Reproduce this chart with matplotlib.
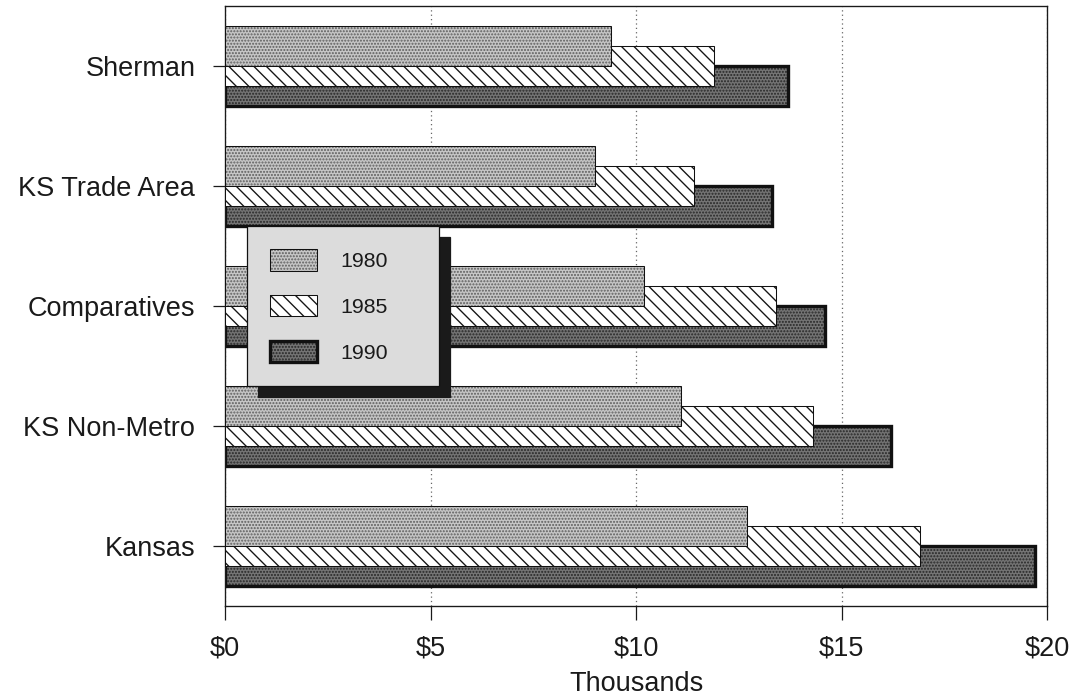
import matplotlib
matplotlib.use("Agg")
import matplotlib.pyplot as plt
import numpy as np

# Per-capita income by area, in thousands of dollars
categories = ["Sherman", "KS Trade Area", "Comparatives", "KS Non-Metro", "Kansas"]
series_labels = ["1980", "1985", "1990"]
income_1980 = [9.4, 9.0, 10.2, 11.1, 12.7]
income_1985 = [11.9, 11.4, 13.4, 14.3, 16.9]
income_1990 = [13.7, 13.3, 14.6, 16.2, 19.7]
x_ticks = [0, 5, 10, 15, 20]
x_tick_labels = [r"\$0", r"\$5", r"\$10", r"\$15", r"\$20"]

plt.rcParams["font.family"] = ["Liberation Sans", "DejaVu Sans"]
plt.rcParams["hatch.linewidth"] = 1.3

DPI = 75
W, H = 1074, 697
fig = plt.figure(figsize=(W / DPI, H / DPI), dpi=DPI)
ax = fig.add_axes([225 / W, 1 - 606 / H, (1047 - 225) / W, 600 / H])

styles = [
    dict(face="#c6c6c6", hatch="....", hatch_col="#5c5c5c", edge="#111111", lw=1.0, z=4),
    dict(face="white", hatch="\\\\", hatch_col="#151515", edge="#111111", lw=1.0, z=3),
    dict(face="#747474", hatch="....", hatch_col="#262626", edge="#111111", lw=3.2, z=2),
]
offsets = [-1 / 6, 0, 1 / 6]
bar_h = 1 / 3

y = np.arange(len(categories))
handles = []
for vals, off, st in zip([income_1980, income_1985, income_1990], offsets, styles):
    fill = ax.barh(y + off, vals, height=bar_h, color=st["face"],
                   edgecolor=st["hatch_col"], linewidth=0, hatch=st["hatch"],
                   zorder=st["z"])
    outline = ax.barh(y + off, vals, height=bar_h, fill=False,
                      edgecolor=st["edge"], linewidth=st["lw"],
                      zorder=st["z"] + 0.1)
    handles.append((fill, outline))

ax.set_xlim(0, 20)
ax.set_ylim(len(categories) - 0.5, -0.5)
ax.set_yticks(y, categories)
ax.set_xticks(x_ticks, x_tick_labels)

ax.tick_params(axis="y", direction="out", length=11.5, width=1.2, pad=17,
               labelsize=26, colors="#1a1a1a")
ax.tick_params(axis="x", direction="out", length=13, width=1.2, pad=15,
               labelsize=26, colors="#1a1a1a")
ax.set_xlabel("Thousands", fontsize=26, labelpad=9, color="#1a1a1a")

ax.xaxis.grid(True, linestyle=(0, (1, 2.5)), color="#666666", linewidth=1.2)
ax.set_axisbelow(True)
for sp in ax.spines.values():
    sp.set_linewidth(1.3)
    sp.set_color("#1a1a1a")

leg = ax.legend(handles, series_labels, loc="upper left",
                bbox_to_anchor=(247 / W, 1 - 226 / H, 192 / W, 0),
                bbox_transform=fig.transFigure, mode="expand",
                borderaxespad=0, fontsize=20.5, handlelength=2.2,
                handleheight=1.15, handletextpad=1.05, labelspacing=1.12,
                borderpad=1.1, fancybox=False, framealpha=1,
                shadow={"ox": 10.5, "oy": -10.5, "facecolor": "#1a1a1a",
                        "edgecolor": "#1a1a1a", "alpha": 1})
frame = leg.get_frame()
frame.set_facecolor("#dcdcdc")
frame.set_edgecolor("#111111")
frame.set_linewidth(1.2)
for t in leg.get_texts():
    t.set_color("#1a1a1a")

fig.savefig("out.png", dpi=DPI)
